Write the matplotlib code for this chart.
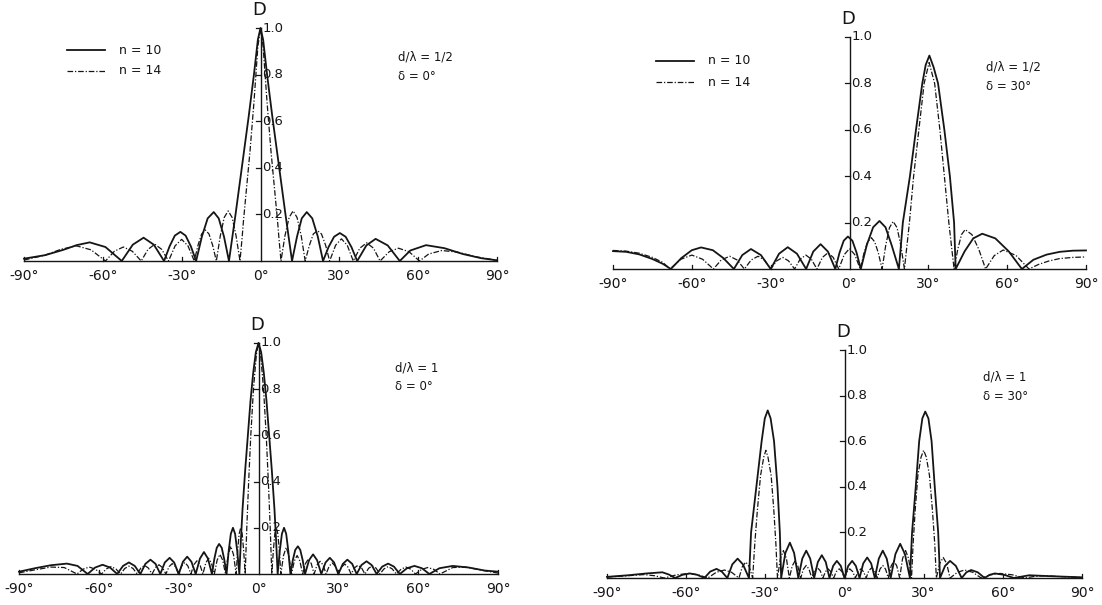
import matplotlib
matplotlib.use('Agg')
import matplotlib.pyplot as plt
from matplotlib.lines import Line2D

# ---- data (angle in degrees, D) ----
# d/lambda = 1/2, delta = 0
tl_n10_deg = [-90, -82, -75, -70, -65, -59, -52.8, -48.6, -44.5, -40.6, -36.7,
              -34.6, -32.6, -30.5, -28.5, -26.5, -24.5, -22.3, -20.1, -17.8, -15.9, -13.9, -12,
              -11, -9.5, -7, -4.5, -2.5, -1, 0, 1, 2.5, 4.5, 7, 9.5, 11, 12,
              13.9, 15.7, 17.6, 19.7, 21.8, 23.8, 25.9, 28, 30.2, 32.4, 34.6, 36.8,
              40.3, 43.8, 48.4, 53, 57, 63, 70, 77, 84, 90]
tl_n10_d = [0.01, 0.025, 0.048, 0.068, 0.08, 0.06, 0, 0.07, 0.1, 0.07, 0,
            0.063, 0.109, 0.125, 0.109, 0.063, 0, 0.105, 0.183, 0.21, 0.183, 0.105, 0,
            0.08, 0.2, 0.41, 0.62, 0.8, 0.95, 1.0, 0.95, 0.8, 0.62, 0.41, 0.2, 0.08, 0,
            0.105, 0.183, 0.21, 0.183, 0.105, 0, 0.06, 0.104, 0.12, 0.104, 0.06, 0,
            0.067, 0.095, 0.067, 0, 0.045, 0.068, 0.055, 0.03, 0.012, 0.003]

tl_n14_deg = [-90, -82, -76, -70, -64.5, -59, -55.6, -52.2, -48.8, -45.4,
              -42.8, -40.2, -37.6, -35, -32.5, -30, -27.6, -25.2,
              -23.8, -22.4, -21, -19.6, -18.2, -16.8, -15.3, -13.8, -12.3, -10.8, -9.3, -7.8,
              -7, -6.5, -5.5, -4, -2.5, -1, 0, 1, 2.5, 4, 5.5, 6.5, 7, 7.8,
              9.3, 10.9, 12.4, 13.9, 15.5, 17, 18.6, 20.1, 21.7, 23.2, 24.8, 26.3,
              28.6, 30.8, 33, 35.3, 37.8, 40.4, 43, 45.5, 49, 52.5, 56.5, 60.5,
              64, 69, 75, 82, 90]
tl_n14_d = [0.004, 0.025, 0.05, 0.065, 0.048, 0, 0.042, 0.06, 0.042, 0,
            0.05, 0.072, 0.05, 0, 0.065, 0.093, 0.065, 0,
            0.067, 0.116, 0.133, 0.116, 0.067, 0, 0.108, 0.187, 0.215, 0.187, 0.108, 0,
            0.1, 0.17, 0.29, 0.47, 0.68, 0.92, 1.0, 0.92, 0.68, 0.47, 0.29, 0.17, 0.1, 0,
            0.108, 0.187, 0.215, 0.187, 0.108, 0, 0.067, 0.116, 0.13, 0.116, 0.067, 0,
            0.068, 0.095, 0.068, 0, 0.055, 0.078, 0.055, 0, 0.04, 0.055, 0.04, 0,
            0.03, 0.045, 0.038, 0.018, 0.003]

# d/lambda = 1/2, delta = 30
tr_n10_deg = [-90, -85, -80, -75, -71, -68, -64, -60, -56.5, -52, -48, -44,
              -40.8, -37.5, -33.7, -30, -26.8, -23.5, -20, -16.5, -13.8, -11, -8.2, -5.4,
              -3.8, -2.2, -0.6, 1.1, 2.7, 4.3, 6.6, 9, 11.4, 13.7, 16, 18.8,
              20.3, 23, 25.3, 27.7, 29, 30.4, 32, 33.7, 36.1, 38.2, 39.8, 40.4,
              43.8, 47.1, 50.5, 55.5, 60.6, 65.6, 70, 75, 80, 85, 90]
tr_n10_d = [0.077, 0.074, 0.063, 0.043, 0.022, 0, 0.047, 0.081, 0.093, 0.081, 0.047, 0,
            0.06, 0.086, 0.06, 0, 0.066, 0.094, 0.066, 0, 0.075, 0.107, 0.075, 0,
            0.07, 0.122, 0.14, 0.122, 0.07, 0, 0.104, 0.18, 0.207, 0.18, 0.104, 0,
            0.2, 0.4, 0.6, 0.8, 0.88, 0.92, 0.87, 0.8, 0.6, 0.4, 0.2, 0,
            0.076, 0.132, 0.152, 0.132, 0.076, 0, 0.04, 0.062, 0.074, 0.079, 0.08]

tr_n14_deg = [-90, -85, -80, -75, -71, -68.3, -64.2, -60, -55.9, -51.8,
              -48.8, -45.6, -42.8, -40, -37.4, -34.8, -32.4, -30, -27.7, -25.4, -23.2, -20.9,
              -18.8, -16.6, -14.5, -12.4, -10.3, -8.2, -6.2, -4.1, -2, 0, 2, 4.1,
              5.5, 6.9, 8.3, 9.6, 11, 12.4, 13.8, 15.2, 16.6, 18.1, 19.5, 20.9,
              22.8, 24.4, 26.4, 28.4, 30.3, 32.4, 34.4, 36.1, 37.8, 39.8,
              41.2, 42.6, 44, 46.6, 49.2, 51.8, 55.1, 58.5, 63.4, 68.3,
              72, 76, 80, 85, 90]
tr_n14_d = [0.08, 0.077, 0.068, 0.05, 0.028, 0, 0.042, 0.06, 0.042, 0,
            0.039, 0.055, 0.039, 0, 0.039, 0.055, 0.039, 0, 0.035, 0.05, 0.035, 0,
            0.042, 0.06, 0.042, 0, 0.05, 0.07, 0.05, 0, 0.062, 0.088, 0.062, 0,
            0.068, 0.117, 0.135, 0.117, 0.068, 0, 0.103, 0.178, 0.205, 0.178, 0.103, 0,
            0.2, 0.4, 0.6, 0.8, 0.89, 0.8, 0.6, 0.4, 0.2, 0,
            0.085, 0.148, 0.17, 0.148, 0.085, 0, 0.058, 0.082, 0.058, 0,
            0.02, 0.035, 0.045, 0.05, 0.052]

# d/lambda = 1, delta = 0
bl_n10_deg = [-90, -84, -78, -72, -68, -64.2, -61.4, -58.6, -55.8, -53.1,
              -50.9, -48.7, -46.5, -44.4, -42.5, -40.6, -38.7, -36.9, -35.2, -33.4, -31.7, -30,
              -28.4, -26.8, -25.2, -23.6, -22, -20.5, -19, -17.5,
              -16.6, -15.7, -14.8, -13.8, -12.9, -12, -11.2, -10.4, -9.6, -8.8, -8, -7.2,
              -6.6, -6, -5, -4, -3, -2, -1, 0, 1, 2, 3, 4, 5, 6, 6.6, 7.2,
              8, 8.8, 9.6, 10.4, 11.2, 12, 12.9, 13.8, 14.8, 15.7, 16.6, 17.5,
              19, 20.5, 22, 23.6, 25.2, 26.8, 28.4, 30, 31.7, 33.4, 35.2, 36.9,
              38.7, 40.6, 42.5, 44.4, 46.5, 48.7, 50.9, 53.1, 55.8, 58.6, 61.4, 64.2,
              68, 73, 79, 85, 90]
bl_n10_d = [0.01, 0.025, 0.038, 0.045, 0.035, 0, 0.028, 0.04, 0.028, 0,
            0.035, 0.05, 0.035, 0, 0.044, 0.062, 0.044, 0, 0.05, 0.07, 0.05, 0,
            0.053, 0.075, 0.053, 0, 0.067, 0.095, 0.067, 0,
            0.065, 0.113, 0.13, 0.113, 0.065, 0, 0.1, 0.174, 0.2, 0.174, 0.1, 0,
            0.15, 0.28, 0.45, 0.6, 0.75, 0.87, 0.96, 1.0, 0.96, 0.87, 0.75, 0.6, 0.45, 0.28, 0.15, 0,
            0.1, 0.174, 0.2, 0.174, 0.1, 0, 0.06, 0.104, 0.12, 0.104, 0.06, 0,
            0.06, 0.085, 0.06, 0, 0.05, 0.07, 0.05, 0, 0.044, 0.062, 0.044, 0,
            0.039, 0.055, 0.039, 0, 0.032, 0.045, 0.032, 0, 0.025, 0.035, 0.025, 0,
            0.025, 0.035, 0.028, 0.015, 0.01]

bl_n14_deg = [-90, -84, -78, -73, -68.2, -65.9, -63.6, -61.3, -59, -57.2, -55.4, -53.6, -51.8,
              -50.25, -48.7, -47.15, -45.6, -44.2, -42.8, -41.4, -40, -38.7, -37.4, -36.1, -34.8,
              -33.6, -32.4, -31.2, -30, -28.85, -27.7, -26.55, -25.4, -24.3, -23.15, -22, -20.9,
              -19.8, -18.75, -17.7, -16.6, -15.55, -14.5, -13.45, -12.4, -11.4, -10.4, -9.4, -8.4,
              -7.83, -7.27, -6.7, -6.13, -5.57, -5,
              -4.4, -3.7, -2.9, -1.9, -0.8, 0, 0.8, 1.9, 2.9, 3.7, 4.4, 5,
              5.57, 6.13, 6.7, 7.27, 7.83, 8.4, 9.4, 10.4, 11.4, 12.4, 13.45, 14.5, 15.55, 16.6,
              17.7, 18.75, 19.8, 20.9, 22, 23.15, 24.3, 25.4, 26.55, 27.7, 28.85, 30,
              31.2, 32.4, 33.6, 34.8, 36.1, 37.4, 38.7, 40, 41.4, 42.8, 44.2, 45.6,
              47.15, 48.7, 50.25, 51.8, 53.6, 55.4, 57.2, 59, 61.3, 63.6, 65.9, 68.2,
              73, 78, 84, 90]
bl_n14_d = [0.005, 0.018, 0.03, 0.028, 0, 0.021, 0.03, 0.021, 0, 0.022, 0.032, 0.022, 0,
            0.024, 0.034, 0.024, 0, 0.026, 0.037, 0.026, 0, 0.028, 0.04, 0.028, 0,
            0.032, 0.045, 0.032, 0, 0.035, 0.05, 0.035, 0, 0.04, 0.057, 0.04, 0,
            0.048, 0.068, 0.048, 0, 0.06, 0.085, 0.06, 0, 0.084, 0.12, 0.084, 0,
            0.1, 0.174, 0.2, 0.174, 0.1, 0,
            0.2, 0.4, 0.6, 0.8, 0.95, 1.0, 0.95, 0.8, 0.6, 0.4, 0.2, 0,
            0.1, 0.174, 0.2, 0.174, 0.1, 0, 0.08, 0.115, 0.08, 0, 0.056, 0.08, 0.056, 0,
            0.046, 0.065, 0.046, 0, 0.039, 0.055, 0.039, 0, 0.034, 0.048, 0.034, 0,
            0.03, 0.043, 0.03, 0, 0.027, 0.038, 0.027, 0, 0.025, 0.035, 0.025, 0,
            0.022, 0.032, 0.022, 0, 0.021, 0.03, 0.021, 0, 0.02, 0.028, 0.02, 0,
            0.028, 0.03, 0.016, 0.004]

# d/lambda = 1, delta = 30
br_n10_deg = [-90, -82, -75, -69, -66.5, -64.2, -61.4, -58.6, -55.8, -53.1,
              -50.9, -48.5, -46.5, -44.4, -42.5, -40.5, -38.5, -36.2,
              -35.4, -33.4, -31.4, -30.2, -29.1, -28, -26.7, -25.4, -24.5, -24,
              -22.4, -20.7, -19.1, -17.5, -16, -14.5, -13, -11.5, -10.1, -8.6, -7.1, -5.7,
              -4.3, -2.9, -1.4, 0, 1.4, 2.9, 4.3, 5.7, 7.1, 8.6, 10.1, 11.5, 13, 14.5, 16, 17.5,
              19.3, 21.1, 22.9, 24.8,
              25.6, 27, 28.3, 29.5, 30.6, 31.8, 33, 34.2, 35.5, 36.2,
              38.1, 40, 42.2, 44.4, 46.2, 48, 50.5, 53.1, 55, 57, 60.5, 64.2, 70, 78, 90]
br_n10_d = [0.005, 0.012, 0.02, 0.025, 0.015, 0, 0.014, 0.02, 0.014, 0,
            0.028, 0.04, 0.028, 0, 0.06, 0.085, 0.06, 0,
            0.2, 0.4, 0.6, 0.7, 0.735, 0.7, 0.6, 0.4, 0.2, 0,
            0.11, 0.155, 0.11, 0, 0.085, 0.12, 0.085, 0, 0.07, 0.1, 0.07, 0,
            0.053, 0.075, 0.053, 0, 0.053, 0.075, 0.053, 0, 0.064, 0.09, 0.064, 0, 0.085, 0.12, 0.085, 0,
            0.105, 0.15, 0.105, 0,
            0.2, 0.4, 0.6, 0.7, 0.73, 0.7, 0.6, 0.4, 0.2, 0,
            0.053, 0.075, 0.053, 0, 0.025, 0.035, 0.025, 0, 0.014, 0.02, 0.014, 0, 0.012, 0.008, 0.003]

br_n14_deg = [-90, -82, -76, -72, -68.3, -63.6, -59, -55.4, -51.8, -48.6, -45.5, -42.8, -40,
              -38.7, -37.4, -36.1, -34.8,
              -34, -33, -31.8, -30.6, -29.8, -29, -27.8, -26.8, -26, -25.4,
              -24.3, -23.15, -22, -20.9, -19.8, -18.75, -17.7, -16.6, -15.55, -14.5, -13.45, -12.4,
              -11.4, -10.3, -9.2, -8.2, -7.2, -6.2, -5.2, -4.1, -3.1, -2, -1, 0,
              1, 2, 3.1, 4.1, 5.2, 6.2, 7.2, 8.2, 9.2, 10.3, 11.4, 12.4, 13.45, 14.5, 15.55, 16.6,
              17.7, 18.75, 19.8, 20.9, 22, 23.15, 24.3, 25.4,
              26, 26.8, 27.8, 29, 30, 31, 32.2, 33.3, 34.2, 34.8,
              36.1, 37.4, 38.7, 40, 42.8, 45.5, 48.6, 51.8, 55.4, 59, 63.6, 68.3, 72, 76, 82, 90]
br_n14_d = [0.004, 0.01, 0.015, 0.01, 0, 0.014, 0.02, 0.014, 0, 0.025, 0.035, 0.025, 0,
            0.05, 0.07, 0.05, 0,
            0.15, 0.3, 0.45, 0.53, 0.56, 0.53, 0.45, 0.3, 0.15, 0,
            0.085, 0.12, 0.085, 0, 0.053, 0.075, 0.053, 0, 0.039, 0.055, 0.039, 0,
            0.032, 0.045, 0.032, 0, 0.028, 0.04, 0.028, 0, 0.028, 0.04, 0.028, 0,
            0.028, 0.04, 0.028, 0, 0.028, 0.04, 0.028, 0, 0.032, 0.045, 0.032, 0, 0.039, 0.055, 0.039, 0,
            0.053, 0.075, 0.053, 0, 0.085, 0.12, 0.085, 0,
            0.15, 0.3, 0.45, 0.53, 0.56, 0.53, 0.45, 0.3, 0.15, 0,
            0.064, 0.09, 0.064, 0, 0.025, 0.035, 0.025, 0, 0.014, 0.02, 0.014, 0, 0.007, 0.01, 0.006, 0.002]

x_ticks = [-90, -60, -30, 0, 30, 60, 90]
x_labels = ['-90°', '-60°', '-30°', '0°', '30°', '60°', '90°']
y_ticks = [0.2, 0.4, 0.6, 0.8, 1.0]
y_labels = ['0.2', '0.4', '0.6', '0.8', '1.0']

W, H = 1102, 605
fig = plt.figure(figsize=(W / 100, H / 100), dpi=100)
fig.patch.set_facecolor('white')
plt.rcParams['font.family'] = ['DejaVu Sans']

INK = '#151515'
DASH = (0, (4.5, 1.5, 1, 1.5))


def px_axes(x_left, x_right, y_zero, y_one):
    # pixel box of the data frame (-90..90, 0..1)
    return fig.add_axes([x_left / W, 1 - y_zero / H, (x_right - x_left) / W, (y_zero - y_one) / H])


def panel(ax, deg10, d10, deg14, d14, note1, note2, note_xy):
    ax.set_xlim(-90, 90)
    ax.set_ylim(0, 1)
    ax.axis('off')
    ax.plot(deg10, d10, color=INK, lw=1.3, clip_on=False, solid_joinstyle='round')
    ax.plot(deg14, d14, color=INK, lw=0.9, ls=DASH, clip_on=False)
    # baseline and vertical D axis
    ax.plot([-90, 90], [0, 0], color=INK, lw=1.0, clip_on=False)
    for t in x_ticks:
        if t != 0:
            ax.plot([t, t], [0, 0.018], color=INK, lw=0.9, clip_on=False)
    ax.plot([0, 0], [0, 1.0], color=INK, lw=1.0, clip_on=False)
    for v, lab in zip(y_ticks, y_labels):
        ax.plot([-1.6, 0], [v, v], color=INK, lw=0.9, clip_on=False)
        ax.text(0.6, v, lab, ha='left', va='center', fontsize=9.5, color=INK)
    ax.text(-0.5, 1.04, 'D', ha='center', va='bottom', fontsize=13, color=INK)
    for t, lab in zip(x_ticks, x_labels):
        ax.text(t, -0.035, lab, ha='center', va='top', fontsize=10, color=INK)
    fig.text(note_xy[0] / W, 1 - note_xy[1] / H, note1, fontsize=8.5, color=INK, va='center')
    fig.text(note_xy[0] / W, 1 - (note_xy[1] + 19) / H, note2, fontsize=8.5, color=INK, va='center')


def legend(x, y):
    fig.add_artist(Line2D([x / W, (x + 38) / W], [1 - y / H, 1 - y / H], color=INK, lw=1.3,
                          transform=fig.transFigure))
    fig.add_artist(Line2D([x / W, (x + 38) / W], [1 - (y + 21) / H, 1 - (y + 21) / H], color=INK,
                          lw=0.9, ls=DASH, transform=fig.transFigure))
    fig.text((x + 52) / W, 1 - y / H, 'n = 10', fontsize=9, color=INK, va='center')
    fig.text((x + 52) / W, 1 - (y + 21) / H, 'n = 14', fontsize=9, color=INK, va='center')


ax1 = px_axes(24, 497, 261, 28)
panel(ax1, tl_n10_deg, tl_n10_d, tl_n14_deg, tl_n14_d, 'd/λ = 1/2', 'δ = 0°', (398, 57))
legend(67, 50)

ax2 = px_axes(613, 1086, 269, 37)
panel(ax2, tr_n10_deg, tr_n10_d, tr_n14_deg, tr_n14_d, 'd/λ = 1/2', 'δ = 30°', (986, 67))
legend(656, 61)

ax3 = px_axes(19, 498, 574, 343)
panel(ax3, bl_n10_deg, bl_n10_d, bl_n14_deg, bl_n14_d, 'd/λ = 1', 'δ = 0°', (395, 368))

ax4 = px_axes(607, 1082, 578, 350)
panel(ax4, br_n10_deg, br_n10_d, br_n14_deg, br_n14_d, 'd/λ = 1', 'δ = 30°', (983, 377))

fig.savefig('out.png', dpi=100, facecolor='white')
